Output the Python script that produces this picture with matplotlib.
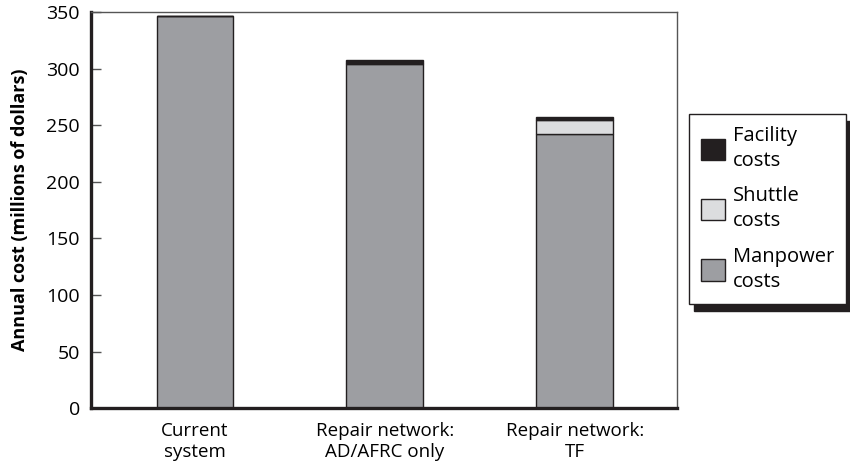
import numpy as np
import matplotlib.pyplot as plt
from matplotlib.patches import Patch

# Cost breakdown per scenario (millions of dollars)
categories = ['Current\nsystem', 'Repair network:\nAD/AFRC only', 'Repair network:\nTF']
manpower = [347, 304, 242]
shuttle = [0, 1, 13]
facility = [0, 3, 2]
yticks = [0, 50, 100, 150, 200, 250, 300, 350]

plt.rcParams['font.family'] = ['Open Sans', 'DejaVu Sans']

col_man = '#9d9ea2'
col_shut = '#dcdddf'
col_fac = '#231f20'
edge = '#231f20'


def main():
    fig = plt.figure(figsize=(8.5, 4.68), dpi=100)
    ax = fig.add_axes([0.107, 0.128, 0.689, 0.846])

    x = np.arange(len(categories))
    w = 0.405
    man = np.array(manpower)
    shu = np.array(shuttle)
    fac = np.array(facility)

    ax.bar(x, man, w, color=col_man, edgecolor=edge, linewidth=1.0, zorder=2)
    ax.bar(x, shu, w, bottom=man, color=col_shut, edgecolor=edge, linewidth=1.0, zorder=2)
    ax.bar(x, fac, w, bottom=man + shu, color=col_fac, edgecolor=edge, linewidth=1.0, zorder=2)

    ax.set_xlim(-0.548, 2.537)
    ax.set_ylim(0, 350)
    ax.set_yticks(yticks)
    ax.set_xticks(x)
    ax.set_xticklabels(categories, fontsize=13.5, linespacing=1.2)
    ax.tick_params(axis='x', length=0, pad=10)
    ax.tick_params(axis='y', direction='in', length=7, width=1, color='#555555',
                   labelsize=14, pad=8)
    ax.set_ylabel('Annual cost (millions of dollars)', fontsize=13, fontweight='bold', labelpad=12)

    for s in ['left', 'bottom']:
        ax.spines[s].set_linewidth(2.4)
        ax.spines[s].set_color(edge)
    for s in ['top', 'right']:
        ax.spines[s].set_linewidth(1.0)
        ax.spines[s].set_color('#555555')

    handles = [
        Patch(facecolor=col_fac, edgecolor=edge, label='Facility\ncosts'),
        Patch(facecolor=col_shut, edgecolor=edge, label='Shuttle\ncosts'),
        Patch(facecolor=col_man, edgecolor=edge, label='Manpower\ncosts'),
    ]
    leg = fig.legend(handles=handles, loc='upper left', bbox_to_anchor=(0.81, 0.757),
                     fontsize=14.5, frameon=True, fancybox=False, handlelength=1.2,
                     handleheight=1.25, handletextpad=0.4, labelspacing=0.75,
                     borderpad=0.6, borderaxespad=0,
                     shadow={'ox': 4, 'oy': -5, 'color': edge, 'alpha': 1})
    for t in leg.get_texts():
        t.set_linespacing(1.35)
    leg.get_frame().set_edgecolor(edge)
    leg.get_frame().set_linewidth(1.0)

    fig.savefig('out.png', dpi=100)


if __name__ == "__main__":
    main()
